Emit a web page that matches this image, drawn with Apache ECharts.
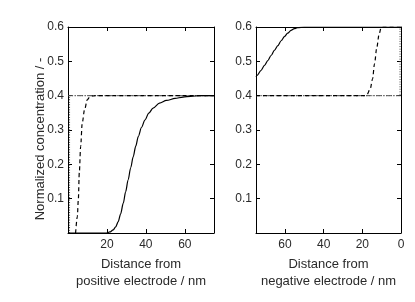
<!DOCTYPE html>
<html><head><meta charset="utf-8">
<script src="https://cdn.jsdelivr.net/npm/echarts@6/dist/echarts.min.js"></script>
<style>html,body{margin:0;padding:0;background:#fff}#c{width:415px;height:302px}</style>
</head><body><div id="c"></div>
<script>
// Left panel: distance from positive electrode (nm)
var leftSolidX = [0, 19.8, 21.5, 23.2, 24.5, 25.8, 27, 28.4, 29.6, 30.9, 32.2, 33.5, 34.8, 36.1, 37.8, 39.5, 41.5, 43.7, 47, 50.6, 55, 59.1, 63, 67.7, 75];
var leftSolidY = [0, 0, 0.003, 0.009, 0.018, 0.033, 0.055, 0.087, 0.12, 0.155, 0.19, 0.222, 0.253, 0.281, 0.308, 0.329, 0.349, 0.364, 0.378, 0.386, 0.392, 0.396, 0.398, 0.4, 0.4];
var leftDashX = [3.9, 4.8, 5.3, 5.8, 6.5, 7.3, 8.5, 9.9, 11.2, 12.5, 14, 75];
var leftDashY = [0, 0.048, 0.096, 0.175, 0.252, 0.32, 0.359, 0.388, 0.396, 0.399, 0.4, 0.4];
var leftDotX = [0.8, 0.8, 75];
var leftDotY = [0, 0.4, 0.4];
var leftDashDotX = [0, 75];
var leftDashDotY = [0.4, 0.4];
// Right panel: distance from negative electrode (nm)
var rightSolidX = [75, 74.4, 72.5, 70.6, 68.9, 67.2, 65.5, 63.7, 62, 60.3, 58.6, 56.9, 55.2, 53.5, 50, 46.7, 40, 0];
var rightSolidY = [0.455, 0.459, 0.473, 0.488, 0.502, 0.517, 0.532, 0.546, 0.56, 0.572, 0.582, 0.59, 0.595, 0.598, 0.6, 0.6, 0.6, 0.6];
var rightDashX = [75, 19, 17.6, 15.9, 14.7, 13.7, 12.5, 11.3, 10.3, 9.5, 0];
var rightDashY = [0.4, 0.4, 0.403, 0.42, 0.449, 0.493, 0.541, 0.58, 0.598, 0.6, 0.6];
var rightDotX = [75, 0.5, 0.5];
var rightDotY = [0.4, 0.4, 0.6];
var rightDashDotX = [75, 0];
var rightDashDotY = [0.4, 0.4];
// Axis ticks
var yTicks = [0.1, 0.2, 0.3, 0.4, 0.5, 0.6];
var xTicksLeft = [20, 40, 60];
var xTicksRight = [0, 20, 40, 60];

function pairs(xs, ys) { return xs.map(function (x, i) { return [x, ys[i]]; }); }

var font = 'Liberation Sans, Arial, sans-serif';
var txt = '#2a2a2a';
var chart = echarts.init(document.getElementById('c'));

function xAx(gi, pos, showLabel, inverse, tickList, name) {
  return {
    type: 'value', gridIndex: gi, position: pos, min: 0, max: 75, interval: 20, inverse: inverse,
    axisLine: { show: true, onZero: false, lineStyle: { color: '#000', width: 1 } },
    axisTick: { show: true, inside: true, length: 4, lineStyle: { color: '#000' } },
    splitLine: { show: false },
    axisLabel: { show: showLabel, color: txt, fontFamily: font, fontSize: 12, margin: 6,
      formatter: function (v) { return tickList.indexOf(v) >= 0 ? String(v) : ''; } },
    name: name || '', nameLocation: 'middle', nameGap: 20,
    nameTextStyle: { color: txt, fontFamily: font, fontSize: 13, lineHeight: 17, verticalAlign: 'top' }
  };
}
function yAx(gi, pos, showLabel) {
  return {
    type: 'value', gridIndex: gi, position: pos, min: 0, max: 0.6, interval: 0.1,
    axisLine: { show: true, onZero: false, lineStyle: { color: '#000', width: 1 } },
    axisTick: { show: true, inside: true, length: 4, lineStyle: { color: '#000' } },
    splitLine: { show: false },
    axisLabel: { show: showLabel, color: txt, fontFamily: font, fontSize: 12, margin: 4,
      formatter: function (v) {
        for (var i = 0; i < yTicks.length; i++) { if (Math.abs(yTicks[i] - v) < 1e-6) return yTicks[i].toFixed(1); }
        return '';
      } }
  };
}
function ser(xi, yi, data, type, width, color) {
  return { type: 'line', xAxisIndex: xi, yAxisIndex: yi, data: data, showSymbol: false, symbol: 'none',
    smooth: 0.3, smoothMonotone: 'x', clip: true, animation: false,
    lineStyle: { color: color || '#000', width: width, type: type } };
}

chart.setOption({
  animation: false,
  backgroundColor: '#fff',
  grid: [
    { left: 68, top: 27, width: 146, height: 206 },
    { left: 256, top: 27, width: 145, height: 206 }
  ],
  xAxis: [
    xAx(0, 'bottom', true, false, xTicksLeft, 'Distance from\npositive electrode / nm'),
    xAx(0, 'top', false, false, xTicksLeft),
    xAx(1, 'bottom', true, true, xTicksRight, 'Distance from\nnegative electrode / nm'),
    xAx(1, 'top', false, true, xTicksRight)
  ],
  yAxis: [
    yAx(0, 'left', true), yAx(0, 'right', false),
    yAx(1, 'left', true), yAx(1, 'right', false)
  ],
  graphic: [{
    type: 'text', x: 40, y: 139, rotation: Math.PI / 2,
    style: { text: 'Normalized concentration / -', fill: txt, font: '13px ' + font, align: 'center', verticalAlign: 'middle' }
  }],
  series: [
    ser(0, 0, pairs(leftDotX, leftDotY), [1, 1.5], 1, '#444'),
    ser(0, 0, pairs(leftDashDotX, leftDashDotY), [5, 2, 1, 2], 1, '#555'),
    ser(0, 0, pairs(leftDashX, leftDashY), [4, 3], 1.2),
    ser(0, 0, pairs(leftSolidX, leftSolidY), 'solid', 1.2),
    ser(2, 2, pairs(rightDotX, rightDotY), [1, 1.5], 1, '#444'),
    ser(2, 2, pairs(rightDashDotX, rightDashDotY), [5, 2, 1, 2], 1, '#555'),
    ser(2, 2, pairs(rightDashX, rightDashY), [4, 3], 1.2),
    ser(2, 2, pairs(rightSolidX, rightSolidY), 'solid', 1.2)
  ]
});
</script></body></html>
